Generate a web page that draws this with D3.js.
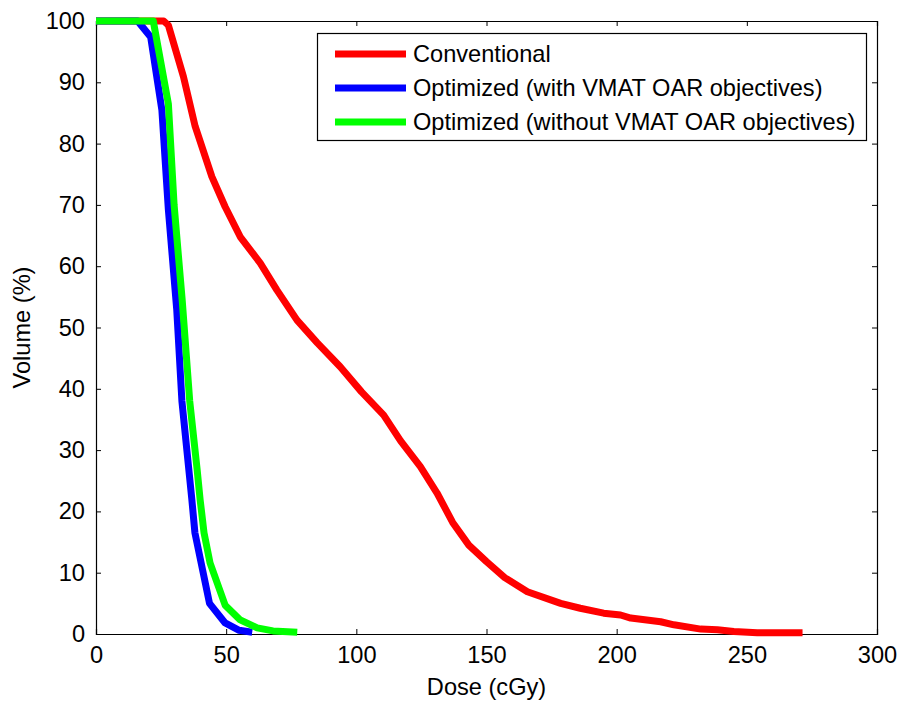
<!DOCTYPE html>
<html>
<head>
<meta charset="utf-8">
<script src="https://cdn.jsdelivr.net/npm/d3@7"></script>
<style>
  html, body { margin: 0; padding: 0; background: #fff; }
  svg { display: block; font-family: "Liberation Sans", Arial, sans-serif; }
</style>
</head>
<body>
<svg id="chart" width="900" height="701"></svg>
<script>
// Dose-volume histogram: dose in cGy vs. volume in %
const conventionalDose = [0, 26, 27.8, 33.6, 38.1, 44.5, 49.6, 55.4, 63.1, 69.5, 77.2, 85, 93.8, 102, 110.5, 117, 124.6, 131, 137, 143.2, 150, 157, 165.7, 178.5, 186, 195, 201.5, 205.4, 216.9, 222, 232.3, 238.7, 245, 254, 271.4];
const conventionalVol  = [100, 100, 99.3, 90.9, 82.8, 74.6, 69.7, 64.8, 60.5, 56.1, 51.2, 47.5, 43.6, 39.5, 35.7, 31.5, 27.3, 23, 18.2, 14.5, 11.8, 9.2, 6.9, 5.0, 4.2, 3.4, 3.1, 2.6, 2.0, 1.5, 0.8, 0.7, 0.4, 0.2, 0.2];

const withOarDose = [0, 16, 21, 25.3, 27.8, 31, 33, 36.8, 38, 43.6, 49.6, 55, 60];
const withOarVol  = [100, 100, 97.4, 85.5, 69.2, 53, 38, 22, 16.5, 5, 1.8, 0.6, 0.3];

const withoutOarDose = [0, 22, 27.8, 30, 33.1, 36, 38.8, 40, 41.5, 43.8, 49.6, 55.4, 61.9, 68, 77.3];
const withoutOarVol  = [100, 100, 86.5, 70, 54.5, 38, 27, 21.9, 16.5, 11.6, 4.7, 2.3, 1.0, 0.5, 0.3];

const seriesNames  = ["Conventional", "Optimized (with VMAT OAR objectives)", "Optimized (without VMAT OAR objectives)"];
const seriesColors = ["#ff0000", "#0000ff", "#00ff00"];

const xTicks = [0, 50, 100, 150, 200, 250, 300];
const yTicks = [0, 10, 20, 30, 40, 50, 60, 70, 80, 90, 100];

const series = [
  { name: seriesNames[0], color: seriesColors[0], pts: conventionalDose.map((d, i) => [d, conventionalVol[i]]) },
  { name: seriesNames[1], color: seriesColors[1], pts: withOarDose.map((d, i) => [d, withOarVol[i]]) },
  { name: seriesNames[2], color: seriesColors[2], pts: withoutOarDose.map((d, i) => [d, withoutOarVol[i]]) }
];

const svg = d3.select("#chart");
const plotLeft = 96, plotRight = 877, plotTop = 21, plotBottom = 634;

const x = d3.scaleLinear().domain([0, 300]).range([plotLeft, plotRight]);
const y = d3.scaleLinear().domain([0, 100]).range([plotBottom, plotTop]);

const fontSize = 23.6;
const tickLen = 5;

// Axes (ticks pointing inward, labels outside)
const xAxis = svg.append("g").attr("transform", `translate(0,${plotBottom})`)
  .call(d3.axisBottom(x).tickValues(xTicks).tickSize(-tickLen).tickPadding(12).tickFormat(d3.format("d")));
const yAxis = svg.append("g").attr("transform", `translate(${plotLeft},0)`)
  .call(d3.axisLeft(y).tickValues(yTicks).tickSize(-tickLen).tickPadding(11).tickFormat(d3.format("d")));
const xTop = svg.append("g").attr("transform", `translate(0,${plotTop})`)
  .call(d3.axisTop(x).tickValues(xTicks).tickSize(-tickLen).tickFormat(""));
const yRight = svg.append("g").attr("transform", `translate(${plotRight},0)`)
  .call(d3.axisRight(y).tickValues(yTicks).tickSize(-tickLen).tickFormat(""));

[xAxis, yAxis, xTop, yRight].forEach(g => {
  g.select(".domain").attr("stroke", "#000").attr("stroke-width", 1.2);
  g.selectAll(".tick line").attr("stroke", "#000");
  g.selectAll(".tick text").attr("fill", "#000").style("font-size", fontSize + "px")
    .style("font-family", "'Liberation Sans', Arial, sans-serif");
});

// Axis titles
svg.append("text")
  .attr("x", (plotLeft + plotRight) / 2).attr("y", 695)
  .attr("text-anchor", "middle").style("font-size", fontSize + "px").attr("fill", "#000")
  .text("Dose (cGy)");
svg.append("text")
  .attr("transform", `translate(30,${(plotTop + plotBottom) / 2}) rotate(-90)`)
  .attr("text-anchor", "middle").style("font-size", fontSize + "px").attr("fill", "#000")
  .text("Volume (%)");

// Curves
const line = d3.line().x(d => x(d[0])).y(d => y(d[1]));
svg.append("g").selectAll("path").data(series).join("path")
  .attr("d", d => line(d.pts))
  .attr("fill", "none")
  .attr("stroke", d => d.color)
  .attr("stroke-width", 7)
  .attr("stroke-linejoin", "round");

// Legend
const legend = svg.append("g");
legend.append("rect")
  .attr("x", 317.5).attr("y", 33.5).attr("width", 549).attr("height", 107)
  .attr("fill", "#fff").attr("stroke", "#000").attr("stroke-width", 1.2);
series.forEach((s, i) => {
  const cy = 54 + i * 34;
  legend.append("line")
    .attr("x1", 335).attr("x2", 406).attr("y1", cy).attr("y2", cy)
    .attr("stroke", s.color).attr("stroke-width", 7);
  legend.append("text")
    .attr("x", 413).attr("y", cy).attr("dy", "0.35em")
    .style("font-size", fontSize + "px").attr("fill", "#000")
    .text(s.name);
});
</script>
</body>
</html>
